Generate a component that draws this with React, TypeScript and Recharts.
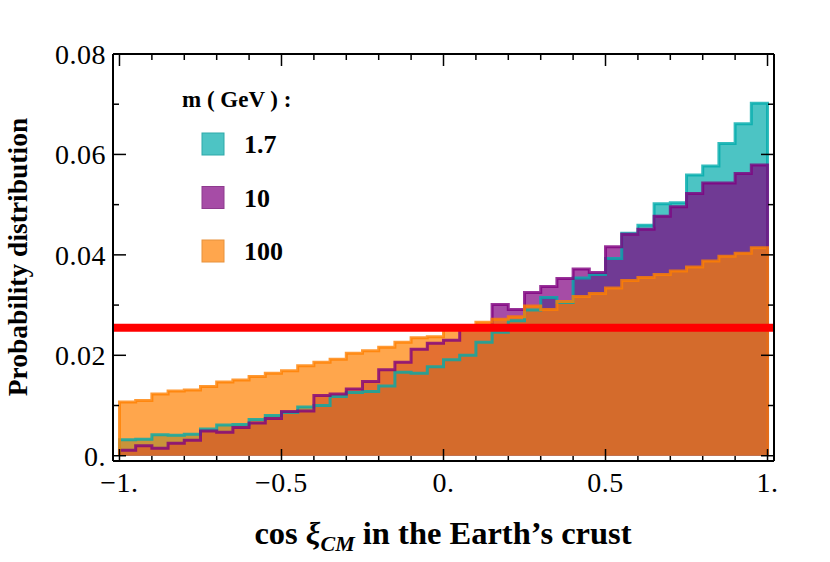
import { ComposedChart, Area, Line, XAxis, YAxis, ReferenceLine } from 'recharts';

// left edges of the 40 histogram bins, plus the right end at 1
const BIN_EDGES = [
  -1, -0.95, -0.9, -0.85, -0.8, -0.75, -0.7, -0.65, -0.6, -0.55,
  -0.5, -0.45, -0.4, -0.35, -0.3, -0.25, -0.2, -0.15, -0.1, -0.05,
  0, 0.05, 0.1, 0.15, 0.2, 0.25, 0.3, 0.35, 0.4, 0.45,
  0.5, 0.55, 0.6, 0.65, 0.7, 0.75, 0.8, 0.85, 0.9, 0.95, 1,
];

// m = 1.7 GeV
const M17 = [
  0.0032, 0.0033, 0.0042, 0.0041, 0.0043, 0.0053, 0.0061, 0.0062, 0.0072, 0.008,
  0.0086, 0.0097, 0.01, 0.0118, 0.0126, 0.0128, 0.0139, 0.0166, 0.0164, 0.0177,
  0.0191, 0.02, 0.0226, 0.0246, 0.0269, 0.029, 0.0315, 0.0305, 0.0354, 0.0361,
  0.0393, 0.0443, 0.0459, 0.0502, 0.0504, 0.0559, 0.0577, 0.0622, 0.0661, 0.0702,
];

// m = 10 GeV
const M10 = [
  0.0011, 0.002, 0.0015, 0.0025, 0.0031, 0.0049, 0.0047, 0.0056, 0.0065, 0.0074,
  0.0088, 0.0089, 0.012, 0.0123, 0.0133, 0.0148, 0.0171, 0.0186, 0.0212, 0.0224,
  0.023, 0.0255, 0.0258, 0.0301, 0.0291, 0.0325, 0.0337, 0.0353, 0.0372, 0.0365,
  0.0416, 0.0441, 0.0451, 0.0477, 0.0496, 0.0522, 0.0543, 0.0543, 0.0562, 0.0579,
];

// m = 100 GeV
const M100 = [
  0.0107, 0.011, 0.0123, 0.0129, 0.0131, 0.0138, 0.0147, 0.0151, 0.0158, 0.0164,
  0.0169, 0.0179, 0.0186, 0.0192, 0.0204, 0.0209, 0.0216, 0.0226, 0.0235, 0.0237,
  0.0252, 0.0259, 0.0266, 0.0272, 0.0277, 0.0298, 0.0291, 0.0307, 0.0317, 0.0323,
  0.0334, 0.0349, 0.0355, 0.0361, 0.0368, 0.0376, 0.0388, 0.0397, 0.0403, 0.0414,
];

const FLAT_LEVEL = 0.0255;

const X_TICKS = [-1, -0.9, -0.8, -0.7, -0.6, -0.5, -0.4, -0.3, -0.2, -0.1, 0, 0.1, 0.2, 0.3, 0.4, 0.5, 0.6, 0.7, 0.8, 0.9, 1];
const X_MAJOR = [-1, -0.5, 0, 0.5, 1];
const X_MAJOR_LABELS = ['\u22121.', '\u22120.5', '0.', '0.5', '1.'];

const Y_TICKS = [0, 0.01, 0.02, 0.03, 0.04, 0.05, 0.06, 0.07, 0.08];
const Y_MAJOR = [0, 0.02, 0.04, 0.06, 0.08];
const Y_MAJOR_LABELS = ['0.', '0.02', '0.04', '0.06', '0.08'];

const SERIES = [
  { key: 'm17', label: '1.7', color: '#00abab', swatch: '#4dc4c4', edge: '#2fa9a9' },
  { key: 'm10', label: '10', color: '#800080', swatch: '#a64ca6', edge: '#8e3a8e' },
  { key: 'm100', label: '100', color: '#ff8000', swatch: '#ffa64d', edge: '#e8923c' },
];

const FONT = "'Liberation Serif', 'Times New Roman', serif";
const W = 830;
const H = 562;

// step outline: drop to zero at both ends so the side edges get drawn
const rows = [
  { x: BIN_EDGES[0], m17: 0, m10: 0, m100: 0 },
  ...BIN_EDGES.slice(0, 40).map((x, i) => ({ x, m17: M17[i], m10: M10[i], m100: M100[i] })),
  { x: BIN_EDGES[40], m17: M17[39], m10: M10[39], m100: M100[39] },
  { x: BIN_EDGES[40], m17: 0, m10: 0, m100: 0 },
];

const majorIndex = (list: number[], v: number) => list.findIndex((m) => Math.abs(m - v) < 1e-9);

const TICK_FONT = 28;

function BottomTick({ x, y, payload }: any) {
  const i = majorIndex(X_MAJOR, payload.value);
  const len = i >= 0 ? 12 : 5;
  return (
    <g>
      <line x1={x} x2={x} y1={y} y2={y - len} stroke="#000" strokeWidth={1.5} />
      {i >= 0 && (
        <text x={x} y={y + 31} textAnchor="middle" fontFamily={FONT} fontSize={TICK_FONT} letterSpacing={0.5} fill="#000">
          {X_MAJOR_LABELS[i]}
        </text>
      )}
    </g>
  );
}

function TopTick({ x, y, payload }: any) {
  const len = majorIndex(X_MAJOR, payload.value) >= 0 ? 12 : 6;
  return <line x1={x} x2={x} y1={y} y2={y + len} stroke="#000" strokeWidth={1.5} />;
}

function LeftTick({ x, y, payload }: any) {
  const i = majorIndex(Y_MAJOR, payload.value);
  const len = i >= 0 ? 13 : 6;
  return (
    <g>
      <line x1={x} x2={x + len} y1={y} y2={y} stroke="#000" strokeWidth={1.5} />
      {i >= 0 && (
        <text x={x - 7} y={y + 10} textAnchor="end" fontFamily={FONT} fontSize={TICK_FONT} letterSpacing={0.5} fill="#000">
          {Y_MAJOR_LABELS[i]}
        </text>
      )}
    </g>
  );
}

function RightTick({ x, y, payload }: any) {
  const len = majorIndex(Y_MAJOR, payload.value) >= 0 ? 13 : 6;
  return <line x1={x} x2={x - len} y1={y} y2={y} stroke="#000" strokeWidth={1.5} />;
}

const frame = { stroke: '#000', strokeWidth: 2 };

export default function App() {
  return (
    <div style={{ position: 'absolute', left: 0, top: 0, width: W, height: H, background: '#fff' }}>
      <ComposedChart width={W} height={H} data={rows} margin={{ top: 53, right: 55, bottom: 61, left: 13 }}>
        <XAxis
          xAxisId="b"
          type="number"
          dataKey="x"
          domain={[-1.02, 1.02]}
          ticks={X_TICKS}
          allowDataOverflow
          height={40}
          axisLine={frame}
          tickLine={false}
          tickSize={0}
          tickMargin={0}
          tick={<BottomTick />}
          interval={0}
        />
        <XAxis
          xAxisId="t"
          orientation="top"
          type="number"
          dataKey="x"
          domain={[-1.02, 1.02]}
          ticks={X_TICKS}
          allowDataOverflow
          height={1}
          axisLine={frame}
          tickLine={false}
          tickSize={0}
          tickMargin={0}
          tick={<TopTick />}
          interval={0}
        />
        <YAxis
          yAxisId="l"
          type="number"
          domain={[-0.00105, 0.08]}
          ticks={Y_TICKS}
          allowDataOverflow
          width={100}
          axisLine={frame}
          tickLine={false}
          tickSize={0}
          tickMargin={0}
          tick={<LeftTick />}
          interval={0}
        />
        <YAxis
          yAxisId="r"
          orientation="right"
          type="number"
          domain={[-0.00105, 0.08]}
          ticks={Y_TICKS}
          allowDataOverflow
          width={1}
          axisLine={frame}
          tickLine={false}
          tickSize={0}
          tickMargin={0}
          tick={<RightTick />}
          interval={0}
        />
        {/* translucent fills first, outlines on top of all of them */}
        {SERIES.map((s) => (
          <Area
            key={`fill-${s.key}`}
            xAxisId="b"
            yAxisId="l"
            type="stepAfter"
            dataKey={s.key}
            stroke="none"
            fill={s.color}
            fillOpacity={0.7}
            dot={false}
            activeDot={false}
            isAnimationActive={false}
          />
        ))}
        {SERIES.map((s) => (
          <Line
            key={`edge-${s.key}`}
            xAxisId="b"
            yAxisId="l"
            type="stepAfter"
            dataKey={s.key}
            stroke={s.color}
            strokeOpacity={0.8}
            strokeWidth={3}
            dot={false}
            activeDot={false}
            isAnimationActive={false}
          />
        ))}
        <ReferenceLine xAxisId="b" yAxisId="l" y={FLAT_LEVEL} stroke="#ff0000" strokeWidth={8} />
      </ComposedChart>

      <svg
        width={W}
        height={H}
        style={{ position: 'absolute', left: 0, top: 0, pointerEvents: 'none' }}
        fontFamily={FONT}
        fontWeight="bold"
      >
        <text x={182} y={107} fontSize={23}>
          m ( GeV ) :
        </text>
        {SERIES.map((s, i) => (
          <g key={s.key}>
            <rect x={202} y={133 + i * 53.5} width={22} height={22} fill={s.swatch} stroke={s.edge} strokeWidth={1} />
            <text x={244} y={153 + i * 53.5} fontSize={26}>
              {s.label}
            </text>
          </g>
        ))}
        <text transform="translate(27, 257) rotate(-90)" textAnchor="middle" fontSize={27.5}>
          Probability distribution
        </text>
        <text x={443} y={544} textAnchor="middle" fontSize={32.5}>
          cos <tspan fontStyle="italic">{'\u03be'}</tspan>
          <tspan fontStyle="italic" fontSize={22} dy={7}>
            CM
          </tspan>
          <tspan dy={-7}> in the Earth{'\u2019'}s crust</tspan>
        </text>
      </svg>
    </div>
  );
}
